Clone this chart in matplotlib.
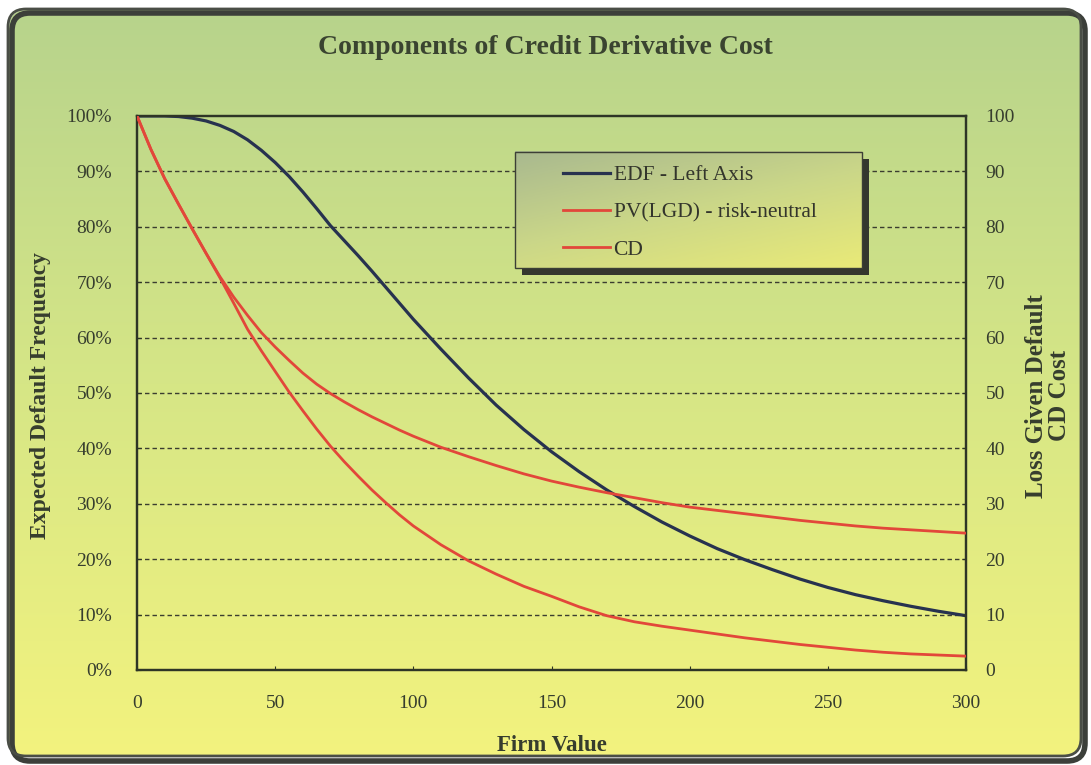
import numpy as np
import matplotlib.pyplot as plt
from matplotlib.patches import FancyBboxPatch, Rectangle
from matplotlib.ticker import PercentFormatter, MultipleLocator
from matplotlib.colors import LinearSegmentedColormap

plt.rcParams['font.family'] = ['Liberation Serif', 'DejaVu Serif']

# firm value grid and the three curves
firm_value = [0, 5, 10, 15, 20, 25, 30, 35, 40, 45, 50, 55, 60, 65, 70, 75, 80, 85, 90, 95, 100,
              110, 120, 130, 140, 150, 160, 170, 180, 190, 200,
              210, 220, 230, 240, 250, 260, 270, 280, 290, 300]
edf_pct = [100, 100, 100, 99.9, 99.6, 99.1, 98.3, 97.2, 95.7, 93.8, 91.6, 89.1, 86.3, 83.3, 80.2,
           77.5, 74.8, 72.0, 69.1, 66.2, 63.3,
           57.9, 52.7, 47.8, 43.4, 39.4, 35.8, 32.5, 29.5, 26.7, 24.2,
           21.9, 19.9, 18.1, 16.4, 14.9, 13.6, 12.5, 11.5, 10.6, 9.8]
pv_lgd = [100, 94, 88.7, 84.1, 79.6, 75.2, 71, 67.3, 64, 60.9, 58.3, 55.9, 53.6, 51.6, 49.9,
          48.4, 47, 45.7, 44.5, 43.3, 42.2,
          40.2, 38.5, 36.9, 35.4, 34.1, 33, 32, 31.1, 30.2, 29.4,
          28.8, 28.2, 27.6, 27, 26.5, 26, 25.6, 25.3, 25, 24.7]
cd_cost = [100, 94, 88.7, 84.1, 79.6, 75.2, 70.8, 66.2, 61.5, 57.6, 53.9, 50.2, 46.8, 43.5, 40.4,
           37.6, 35, 32.5, 30.2, 28, 26,
           22.6, 19.7, 17.3, 15.1, 13.3, 11.4, 9.8, 8.7, 7.9, 7.2,
           6.5, 5.8, 5.2, 4.6, 4.1, 3.6, 3.2, 2.9, 2.7, 2.5]

navy = '#27324f'
red = '#e2473a'
ink = '#2e3526'
txt = '#363d2e'

fig = plt.figure(figsize=(10.91, 7.65), dpi=100)

# background panel with vertical green-to-yellow gradient and rounded frame
bg = fig.add_axes([0, 0, 1, 1], zorder=-10)
bg.set_xlim(0, 1091)
bg.set_ylim(765, 0)
bg.axis('off')
grad_cmap = LinearSegmentedColormap.from_list('bg', ['#b7d38c', '#d6e686', '#f3f37e'])
gy = np.linspace(0, 1, 256).reshape(-1, 1)
img = bg.imshow(gy, cmap=grad_cmap, extent=(8, 1083, 758, 9), aspect='auto', zorder=0)
clip = FancyBboxPatch((9, 10), 1072, 746, boxstyle='round,pad=0,rounding_size=18',
                      transform=bg.transData, facecolor='none', edgecolor='none')
bg.add_patch(clip)
img.set_clip_path(clip)
shadow = FancyBboxPatch((12, 13), 1073, 748, boxstyle='round,pad=0,rounding_size=18',
                        facecolor='none', edgecolor='#3c3f3a', linewidth=4, zorder=1)
bg.add_patch(shadow)
frame = FancyBboxPatch((8, 9), 1073, 747, boxstyle='round,pad=0,rounding_size=18',
                       facecolor='none', edgecolor='#4a4e46', linewidth=2, zorder=2)
bg.add_patch(frame)

ax = fig.add_axes([0.1256, 0.1242, 0.7598, 0.7242])
ax.patch.set_alpha(0)
ax2 = ax.twinx()

ax.set_xlim(0, 300)
ax.set_ylim(0, 1)
ax2.set_ylim(0, 100)

for y in np.arange(0.1, 1.0, 0.1):
    ax.axhline(y, color='#3b3d30', linewidth=1.0, dashes=(3.2, 2.2), zorder=1)

l1, = ax.plot(firm_value, np.array(edf_pct) / 100, color=navy, linewidth=2.3, zorder=3,
              solid_joinstyle='round')
l2, = ax2.plot(firm_value, pv_lgd, color=red, linewidth=2.0, zorder=3, solid_joinstyle='round')
l3, = ax2.plot(firm_value, cd_cost, color=red, linewidth=2.0, zorder=3, solid_joinstyle='round')

ax.yaxis.set_major_locator(MultipleLocator(0.1))
ax.yaxis.set_major_formatter(PercentFormatter(1.0, decimals=0))
ax.xaxis.set_major_locator(MultipleLocator(50))
ax2.yaxis.set_major_locator(MultipleLocator(10))

ax.tick_params(axis='both', direction='in', length=3, width=0.8, color=ink,
               labelsize=14, labelcolor=txt, pad=18)
ax2.tick_params(axis='y', direction='in', length=3, width=0.8, color=ink,
                labelsize=14, labelcolor=txt, pad=14)

for a in (ax, ax2):
    for s in a.spines.values():
        s.set_color(ink)
        s.set_linewidth(1.6)

ax.set_xlabel('Firm Value', fontsize=16.5, fontweight='bold', color=txt, va='center')
ax.xaxis.set_label_coords(0.5, -0.136)
ax.set_ylabel('Expected Default Frequency', fontsize=17, fontweight='bold', color=txt, va='center')
ax.yaxis.set_label_coords(-0.117, 0.496)
ax2.set_ylabel('Loss Given Default\nCD Cost', fontsize=18, fontweight='bold', color=txt,
               rotation=90, va='center', linespacing=1.0)
ax2.yaxis.set_label_coords(1.099, 0.495)

fig.text(0.5, 0.938, 'Components of Credit Derivative Cost', ha='center', va='center',
         fontsize=20, fontweight='bold', color='#3a4430')

# legend box: gradient face with a dark drop shadow
lx0, lx1, ly0, ly1 = 0.456, 0.8745, 0.7256, 0.935
ax2.add_patch(Rectangle((lx0 + 0.008, ly0 - 0.012), lx1 - lx0, ly1 - ly0, transform=ax2.transAxes,
                        facecolor='#34372e', edgecolor='none', zorder=4))
leg_cmap = LinearSegmentedColormap.from_list('leg', ['#a9b98f', '#cbd788', '#e9ea78'])
lg = np.add.outer(np.linspace(0, 0.6, 64), np.linspace(0, 0.4, 128))
ax2.imshow(lg, cmap=leg_cmap, extent=(lx0, lx1, ly0, ly1), transform=ax2.transAxes,
           aspect='auto', zorder=5, vmin=0, vmax=1)
ax2.add_patch(Rectangle((lx0, ly0), lx1 - lx0, ly1 - ly0, transform=ax2.transAxes,
                        facecolor='none', edgecolor='#3c3f36', linewidth=1.0, zorder=6))
ax2.set_xlim(0, 300)
ax2.set_ylim(0, 100)

leg = ax2.legend([l1, l2, l3], ['EDF - Left Axis', 'PV(LGD) - risk-neutral', 'CD'],
                 loc='upper left', bbox_to_anchor=(0.5035, 0.927), frameon=False,
                 fontsize=15.5, handlelength=2.2, handletextpad=0.15, labelspacing=0.8,
                 borderaxespad=0)
leg.set_zorder(7)
for t in leg.get_texts():
    t.set_color('#33352c')

fig.savefig('out.png', dpi=100)
